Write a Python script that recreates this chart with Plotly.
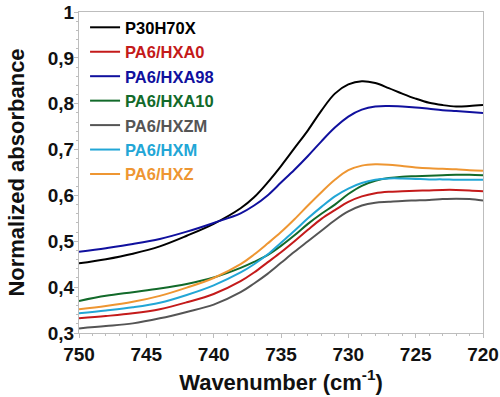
import plotly.graph_objects as go

wavenumber = [750, 748, 746, 744, 742, 740, 738, 737, 736, 735, 734, 733, 732,
              731, 730, 729, 728, 727, 726, 725, 724, 723, 722, 721, 720]

p30h70x = [0.452, 0.461, 0.473, 0.489, 0.512, 0.538, 0.572, 0.596, 0.628, 0.664,
           0.703, 0.742, 0.785, 0.822, 0.842, 0.849, 0.845, 0.834, 0.822, 0.811,
           0.802, 0.797, 0.794, 0.795, 0.797]
pa6_hxa0 = [0.332, 0.337, 0.343, 0.352, 0.367, 0.385, 0.413, 0.432, 0.454, 0.476,
            0.500, 0.525, 0.549, 0.568, 0.586, 0.598, 0.605, 0.608, 0.609, 0.610,
            0.611, 0.612, 0.612, 0.611, 0.609]
pa6_hxa98 = [0.477, 0.485, 0.494, 0.505, 0.521, 0.540, 0.561, 0.578, 0.600, 0.628,
             0.656, 0.686, 0.718, 0.748, 0.772, 0.787, 0.794, 0.795, 0.794, 0.792,
             0.789, 0.786, 0.784, 0.782, 0.780]
pa6_hxa10 = [0.370, 0.381, 0.389, 0.397, 0.407, 0.421, 0.442, 0.455, 0.470, 0.490,
             0.513, 0.538, 0.560, 0.580, 0.603, 0.621, 0.632, 0.638, 0.641, 0.642,
             0.643, 0.644, 0.645, 0.645, 0.644]
pa6_hxzm = [0.310, 0.315, 0.321, 0.332, 0.346, 0.362, 0.389, 0.408, 0.429, 0.453,
            0.477, 0.500, 0.523, 0.546, 0.565, 0.578, 0.584, 0.586, 0.588, 0.589,
            0.590, 0.592, 0.593, 0.592, 0.589]
pa6_hxm = [0.343, 0.349, 0.356, 0.366, 0.383, 0.404, 0.432, 0.450, 0.471, 0.497,
           0.523, 0.550, 0.575, 0.598, 0.615, 0.627, 0.634, 0.637, 0.637, 0.636,
           0.635, 0.635, 0.634, 0.634, 0.634]
pa6_hxz = [0.352, 0.359, 0.368, 0.381, 0.399, 0.420, 0.450, 0.471, 0.495, 0.520,
           0.548, 0.578, 0.607, 0.634, 0.655, 0.665, 0.668, 0.667, 0.664, 0.661,
           0.659, 0.658, 0.657, 0.655, 0.654]

series_names = ["P30H70X", "PA6/HXA0", "PA6/HXA98", "PA6/HXA10", "PA6/HXZM", "PA6/HXM", "PA6/HXZ"]
series_values = [p30h70x, pa6_hxa0, pa6_hxa98, pa6_hxa10, pa6_hxzm, pa6_hxm, pa6_hxz]
series_colors = ["#000000", "#c41a1a", "#10109e", "#126a2a", "#555555", "#22a6d6", "#ee9632"]

y_tickvals = [0.3, 0.4, 0.5, 0.6, 0.7, 0.8, 0.9, 1.0]
y_ticktext = ["0,3", "0,4", "0,5", "0,6", "0,7", "0,8", "0,9", "1"]
x_tickvals = [750, 745, 740, 735, 730, 725, 720]

FONT = "Liberation Sans, Arial, sans-serif"

fig = go.Figure()
for name, vals, col in zip(series_names, series_values, series_colors):
    fig.add_trace(go.Scatter(
        x=wavenumber, y=vals, mode="lines",
        line=dict(color=col, width=2, shape="spline", smoothing=1),
        name=f'<span style="color:{col}">{name}</span>',
    ))

axis_common = dict(
    showline=True, linecolor="#bdbdbd", linewidth=1, mirror=True,
    ticks="outside", ticklen=4, tickcolor="#bdbdbd", showgrid=False, zeroline=False,
    tickfont=dict(family=FONT, size=19, color="#111111", weight="bold"),
    automargin=False,
)

fig.update_xaxes(
    range=[750, 720], tickvals=x_tickvals,
    minor=dict(dtick=1, ticks="outside", ticklen=2, tickcolor="#bdbdbd"),
    title=dict(text="Wavenumber (cm<sup>-1</sup>)",
               font=dict(family=FONT, size=22, color="#111111", weight="bold"), standoff=10),
    **axis_common,
)
fig.update_yaxes(
    range=[0.3, 1.0], tickvals=y_tickvals, ticktext=y_ticktext,
    minor=dict(dtick=0.02, tick0=0.3, ticks="outside", ticklen=2, tickcolor="#bdbdbd"),
    ticklabelstandoff=-4,
    title=dict(text="Normalized absorbance",
               font=dict(family=FONT, size=22, color="#111111", weight="bold"), standoff=17),
    **axis_common,
)

fig.update_layout(
    width=500, height=397,
    margin=dict(l=79, r=17, t=12, b=64, autoexpand=False),
    paper_bgcolor="white", plot_bgcolor="white",
    font=dict(family=FONT, size=16, color="#111111"),
    showlegend=True,
    legend=dict(x=0.015, y=1.006, xanchor="left", yanchor="top",
                bgcolor="rgba(0,0,0,0)",
                font=dict(family=FONT, size=16.5, weight="bold"),
                tracegroupgap=0, itemwidth=30),
)

fig.write_html("out.html", config={"displayModeBar": False},
               post_script="document.body.style.margin='0';document.body.style.overflow='hidden';")
